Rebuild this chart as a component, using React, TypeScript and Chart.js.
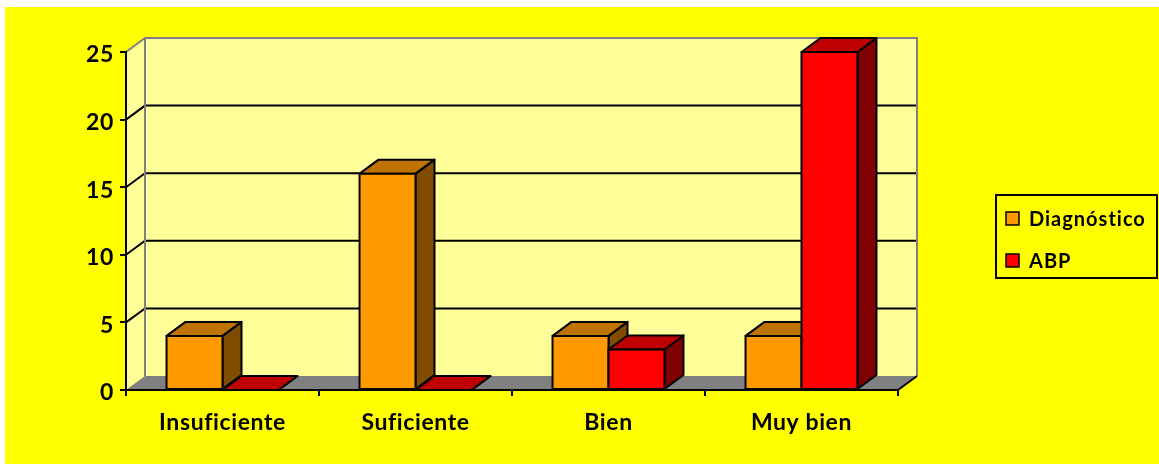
import React, { useEffect, useRef } from 'react';
import { Chart, registerables } from 'chart.js';

Chart.register(...registerables);

const categories = ['Insuficiente', 'Suficiente', 'Bien', 'Muy bien'];
const seriesNames = ['Diagnóstico', 'ABP'];
const diagnostico = [4, 16, 4, 4];
const abp = [0, 0, 3, 25];
const yMin = 0;
const yMax = 25;
const yStep = 5;

const FONT = 'Lato, "DejaVu Sans", sans-serif';
const DX = 19;
const DY = -14;
const faceColors = [
  { front: '#FF9900', top: '#BF7300', side: '#7F4C00' },
  { front: '#FF0000', top: '#BF0000', side: '#7F0000' },
];

function poly(ctx: CanvasRenderingContext2D, pts: number[][]) {
  ctx.beginPath();
  ctx.moveTo(pts[0][0], pts[0][1]);
  for (let i = 1; i < pts.length; i++) ctx.lineTo(pts[i][0], pts[i][1]);
  ctx.closePath();
}

const threeD = {
  id: 'threeD',
  beforeDraw(chart: any) {
    const { ctx, chartArea: a, scales } = chart;
    const ys = scales.y;
    (ctx as any).letterSpacing = '0.6px';
    ctx.save();
    ctx.fillStyle = '#FFFF99';
    poly(ctx, [
      [a.left, a.top],
      [a.left + DX, a.top + DY],
      [a.left + DX, a.bottom + DY],
      [a.left, a.bottom],
    ]);
    ctx.fill();
    ctx.fillRect(a.left + DX, a.top + DY, a.right - a.left, a.bottom - a.top);
    ctx.fillStyle = '#808080';
    poly(ctx, [
      [a.left, a.bottom],
      [a.right, a.bottom],
      [a.right + DX, a.bottom + DY],
      [a.left + DX, a.bottom + DY],
    ]);
    ctx.fill();
    ctx.lineWidth = 2;
    ctx.strokeStyle = '#000';
    ys.ticks.forEach((t: any) => {
      if (t.value <= yMin || t.value >= yMax) return;
      const py = ys.getPixelForValue(t.value);
      ctx.beginPath();
      ctx.moveTo(a.left, py);
      ctx.lineTo(a.left + DX, py + DY);
      ctx.lineTo(a.right + DX, py + DY);
      ctx.stroke();
    });
    ctx.strokeStyle = '#808080';
    ctx.beginPath();
    ctx.moveTo(a.left, a.top);
    ctx.lineTo(a.left + DX, a.top + DY);
    ctx.lineTo(a.right + DX, a.top + DY);
    ctx.lineTo(a.right + DX, a.bottom + DY);
    ctx.moveTo(a.left + DX, a.top + DY);
    ctx.lineTo(a.left + DX, a.bottom + DY);
    ctx.stroke();
    ctx.strokeStyle = '#000';
    ctx.beginPath();
    ctx.moveTo(a.right, a.bottom);
    ctx.lineTo(a.right + DX, a.bottom + DY);
    ctx.stroke();
    ctx.restore();
  },
  beforeDatasetsDraw(chart: any) {
    const { ctx } = chart;
    ctx.save();
    ctx.lineWidth = 2;
    ctx.lineJoin = 'round';
    ctx.strokeStyle = '#000';
    const n = chart.data.labels.length;
    for (let i = 0; i < n; i++) {
      chart.data.datasets.forEach((_: any, d: number) => {
        const el = chart.getDatasetMeta(d).data[i];
        if (!el) return;
        const x0 = el.x - el.width / 2;
        const x1 = el.x + el.width / 2;
        const top = Math.min(el.y, el.base);
        const base = Math.max(el.y, el.base);
        const c = faceColors[d];
        ctx.fillStyle = c.side;
        poly(ctx, [
          [x1, top],
          [x1 + DX, top + DY],
          [x1 + DX, base + DY],
          [x1, base],
        ]);
        ctx.fill();
        ctx.stroke();
        ctx.fillStyle = c.top;
        poly(ctx, [
          [x0, top],
          [x1, top],
          [x1 + DX, top + DY],
          [x0 + DX, top + DY],
        ]);
        ctx.fill();
        ctx.stroke();
        if (base - top > 0.5) {
          ctx.fillStyle = c.front;
          ctx.fillRect(x0, top, x1 - x0, base - top);
          ctx.strokeRect(x0, top, x1 - x0, base - top);
        }
      });
    }
    ctx.restore();
    return false;
  },
  afterDraw(chart: any) {
    const { ctx } = chart;
    ctx.save();
    ctx.lineWidth = 2;
    ctx.strokeStyle = '#000';
    ctx.strokeRect(991, 188, 161, 83);
    ctx.font = `bold 20px ${FONT}`;
    (ctx as any).letterSpacing = '1px';
    ctx.textBaseline = 'middle';
    ctx.textAlign = 'left';
    chart.data.datasets.forEach((ds: any, d: number) => {
      const cy = 211.5 + d * 42;
      ctx.fillStyle = ds.backgroundColor;
      ctx.lineWidth = 1.5;
      ctx.fillRect(1001, cy - 6.5, 13, 13);
      ctx.strokeRect(1001, cy - 6.5, 13, 13);
      ctx.fillStyle = '#000';
      ctx.fillText(ds.label, 1024, cy + 1);
    });
    ctx.restore();
  },
};

export default function App() {
  const ref = useRef<HTMLCanvasElement>(null);
  useEffect(() => {
    if (!ref.current) return;
    const chart = new Chart(ref.current, {
      type: 'bar',
      data: {
        labels: categories,
        datasets: [
          { label: seriesNames[0], data: diagnostico, backgroundColor: faceColors[0].front, borderColor: '#000' },
          { label: seriesNames[1], data: abp, backgroundColor: faceColors[1].front, borderColor: '#000' },
        ],
      },
      options: {
        responsive: false,
        animation: false,
        devicePixelRatio: 1,
        layout: { padding: { left: 0, top: 45, right: 261, bottom: 0 } },
        datasets: { bar: { barPercentage: 1, categoryPercentage: 0.58 } },
        plugins: { legend: { display: false }, tooltip: { enabled: false } },
        scales: {
          x: {
            offset: true,
            grid: { offset: true, drawOnChartArea: false, drawTicks: true, tickLength: 6, color: '#000', lineWidth: 2 },
            border: { display: true, color: '#000', width: 2 },
            ticks: { color: '#000', font: { family: FONT, size: 23, weight: 'bold' }, padding: 13, maxRotation: 0, autoSkip: false },
            afterFit: (s: any) => { s.height = 74; },
          },
          y: {
            min: yMin,
            max: yMax,
            grid: { drawOnChartArea: false, drawTicks: true, tickLength: 6, color: '#000', lineWidth: 2 },
            border: { display: true, color: '#000', width: 2 },
            ticks: { stepSize: yStep, color: '#000', font: { family: FONT, size: 23, weight: 'bold' }, padding: 6, labelOffset: 3 },
            afterFit: (s: any) => { s.width = 121; },
          },
        },
      },
      plugins: [threeD],
    } as any);
    return () => chart.destroy();
  }, []);
  return (
    <div style={{ position: 'fixed', left: 5, top: 7, width: 1154, height: 457, background: '#FFFF00' }}>
      <canvas ref={ref} width={1154} height={457} style={{ display: 'block' }} />
    </div>
  );
}
